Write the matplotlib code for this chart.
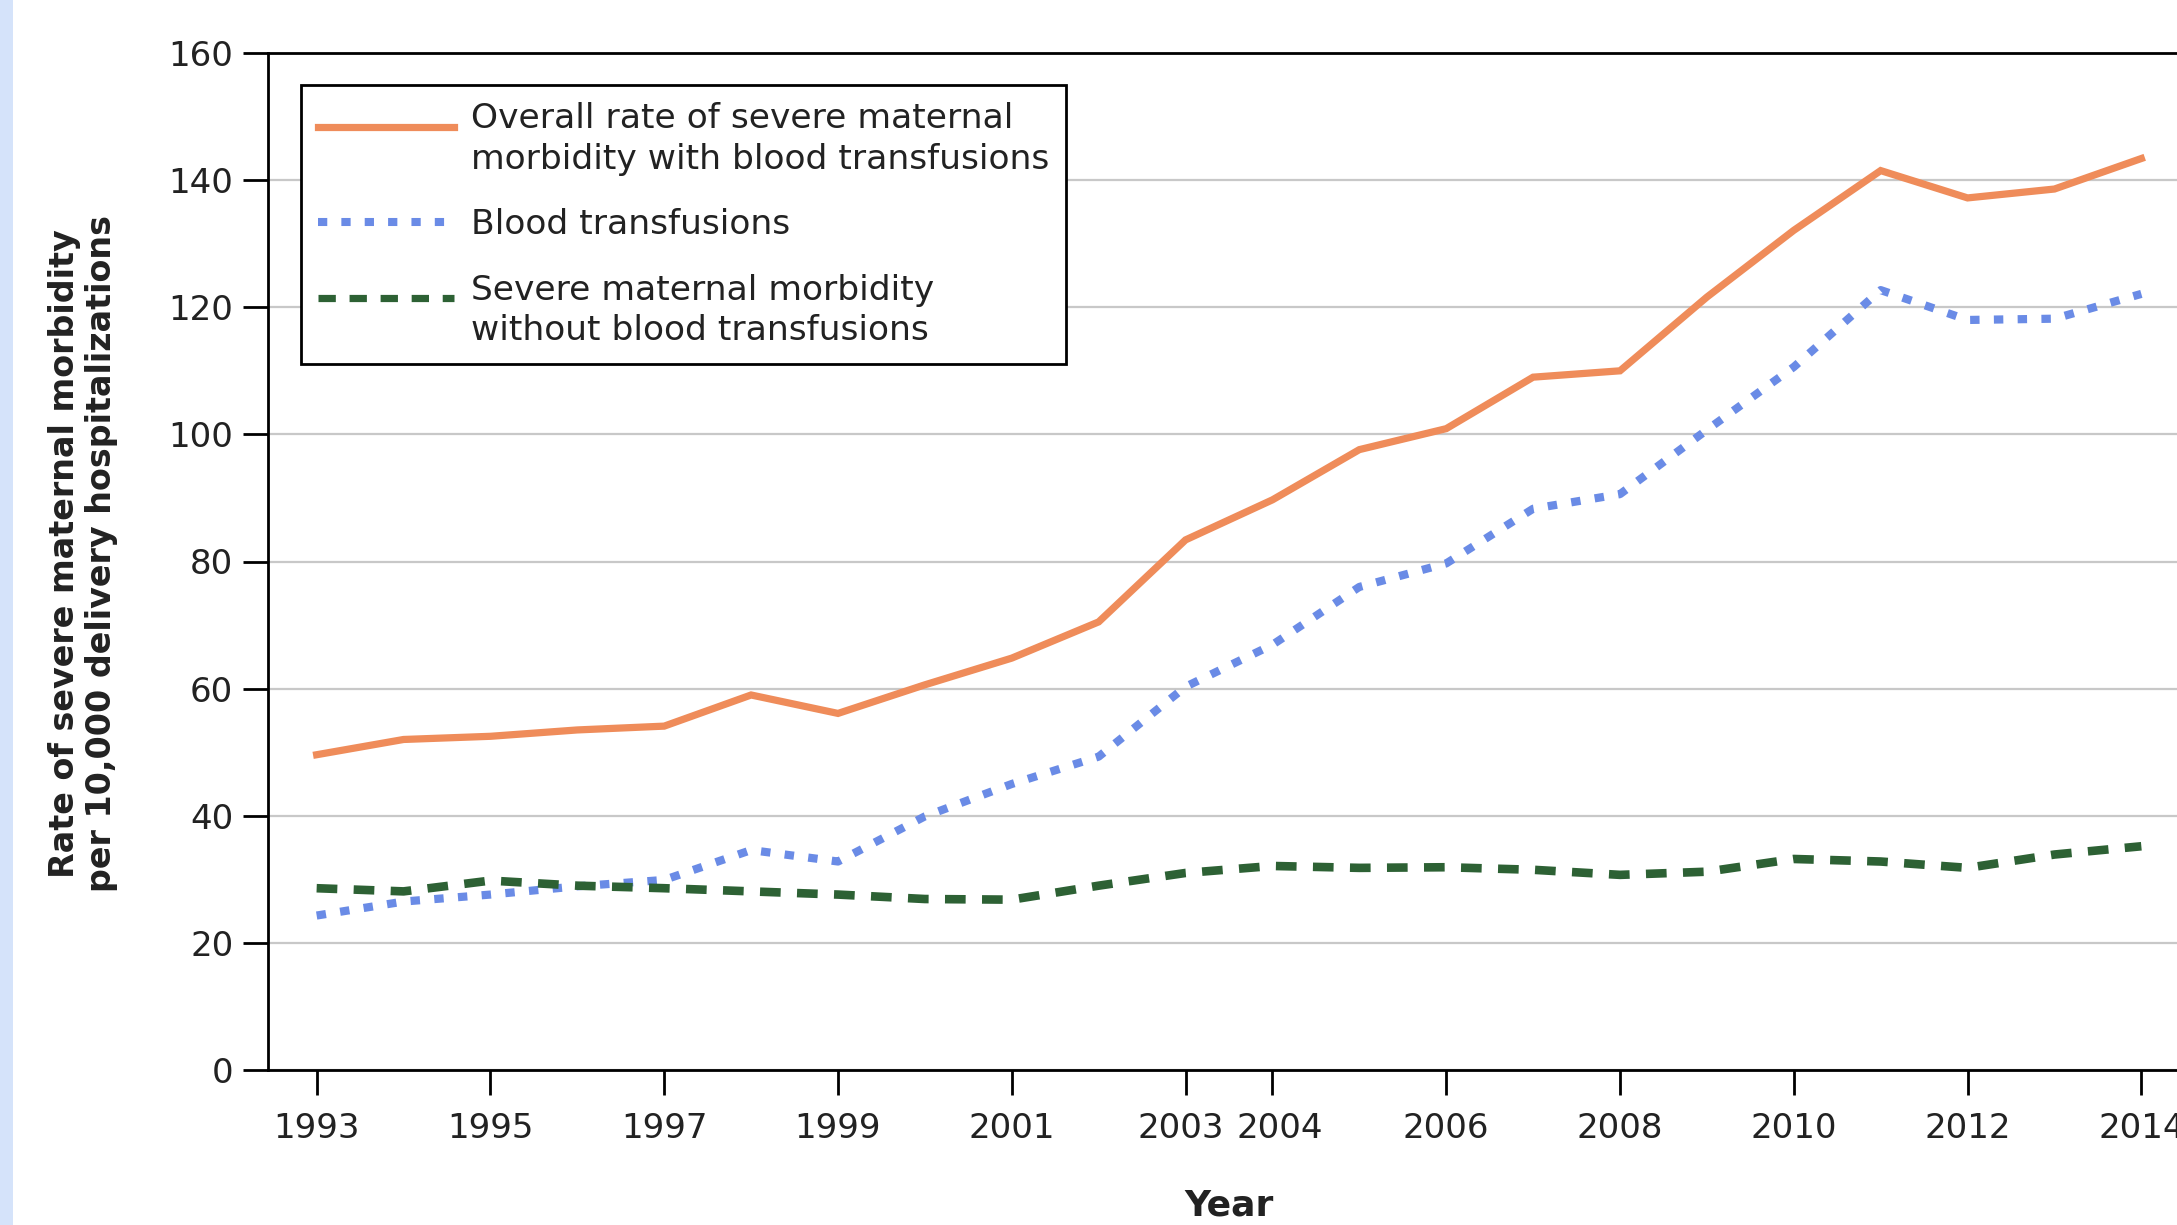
import matplotlib
matplotlib.use("Agg")
import matplotlib.pyplot as plt
from matplotlib.patches import Rectangle
from matplotlib.legend_handler import HandlerLine2D
from matplotlib.transforms import ScaledTranslation

years = list(range(1993, 2015))
overall = [49.6, 52.0, 52.5, 53.5, 54.1, 59.0, 56.1, 60.6, 64.8, 70.5, 83.4,
           89.7, 97.6, 100.9, 109.0, 110.0, 121.6, 132.1, 141.5, 137.2, 138.6, 143.4]
blood = [24.3, 26.5, 27.6, 28.9, 29.9, 34.6, 32.8, 39.9, 45.0, 49.3, 60.3,
         66.9, 76.0, 79.7, 88.3, 90.6, 100.7, 110.6, 122.7, 118.0, 118.2, 122.1]
without = [28.6, 28.1, 29.8, 29.0, 28.6, 28.1, 27.6, 26.9, 26.8, 29.0, 31.0,
           32.1, 31.8, 31.9, 31.5, 30.7, 31.2, 33.2, 32.8, 31.8, 33.9, 35.2]
xticks = [1993, 1995, 1997, 1999, 2001, 2003, 2004, 2006, 2008, 2010, 2012, 2014]
yticks = [0, 20, 40, 60, 80, 100, 120, 140, 160]

labels = ["Overall rate of severe maternal\nmorbidity with blood transfusions",
          "Blood transfusions",
          "Severe maternal morbidity\nwithout blood transfusions"]

plt.rcParams['font.family'] = ['DejaVu Sans']

LEG_FS = 24.8
LEG_LS = 1.29
LINE_STEP = LEG_LS * 1.164 * LEG_FS  # points per text line in legend


class FirstLineHandler(HandlerLine2D):
    """Align the legend handle with the first line of a multi-line label."""
    def __init__(self, shift=0.0, lw=None, **kw):
        super().__init__(**kw)
        self.shift = shift
        self.lw = lw

    def create_artists(self, legend, orig_handle, xdescent, ydescent, width,
                       height, fontsize, trans):
        arts = super().create_artists(legend, orig_handle, xdescent,
                                      ydescent - self.shift, width, height,
                                      fontsize, trans)
        if self.lw is not None:
            for a in arts:
                a.set_linewidth(self.lw)
        return arts


W, H = 2177, 1225
fig = plt.figure(figsize=(W / 100, H / 100), dpi=100)
fig.patch.set_facecolor('white')

# light blue strip on the left edge
fig.patches.append(Rectangle((0, 0), 13 / W, 1, transform=fig.transFigure,
                             facecolor='#D5E3FA', edgecolor='none', zorder=0))

left, right = 268, 2190
top, bottom = 53, 1070
ax = fig.add_axes([left / W, 1 - bottom / H, (right - left) / W, (bottom - top) / H])

l1, = ax.plot(years, overall, color='#EF8C5A', lw=5.2, solid_joinstyle='miter',
              label=labels[0], zorder=3)
l2, = ax.plot(years, blood, color='#6A8BE6', lw=5.9, linestyle=(0, (1.15, 1.75)),
              dash_capstyle='butt', label=labels[1], zorder=3)
l3, = ax.plot(years, without, color='#2D6134', lw=6.2, linestyle=(0, (2.4, 1.9)),
              dash_capstyle='butt', label=labels[2], zorder=3)

ax.set_xlim(1992.44, 2014.56)
ax.set_ylim(0, 160)
ax.set_xticks(xticks)
ax.set_xticklabels([str(x) for x in xticks])
ax.set_yticks(yticks)

ax.grid(axis='y', color='#C8C8C8', lw=1.6, zorder=1)
ax.set_axisbelow(True)

for s in ax.spines.values():
    s.set_color('black')
    s.set_linewidth(2.0)

ax.tick_params(axis='both', which='major', labelsize=24.5, length=18, width=2.0,
               color='black', labelcolor='#222222')
ax.tick_params(axis='y', pad=7)
ax.tick_params(axis='x', pad=12)

# nudge the two crowded labels apart, as in the original
for lab in ax.get_xticklabels():
    if lab.get_text() == '2003':
        lab.set_transform(lab.get_transform() + ScaledTranslation(-5 / 100, 0, fig.dpi_scale_trans))
    elif lab.get_text() == '2004':
        lab.set_transform(lab.get_transform() + ScaledTranslation(7 / 100, 0, fig.dpi_scale_trans))

ax.set_ylabel("Rate of severe maternal morbidity\nper 10,000 delivery hospitalizations",
              fontsize=24, fontweight='bold', color='#222222', linespacing=1.15,
              ha='center', va='center')
ax.yaxis.set_label_coords(-0.0963, 0.508)
ax.set_xlabel("Year", fontsize=26, fontweight='bold', color='#222222',
              ha='center', va='center')
ax.xaxis.set_label_coords(0.5, -0.133)

half = LINE_STEP / 2.0
leg = ax.legend(handles=[l1, l2, l3], loc='upper left',
                bbox_to_anchor=(301 / W, 1 - 85 / H),
                bbox_transform=fig.transFigure, fontsize=LEG_FS, frameon=True,
                fancybox=False, edgecolor='black', framealpha=1,
                handlelength=3.95, handletextpad=0.48, borderpad=0.5,
                labelspacing=0.94, borderaxespad=0,
                handler_map={l1: FirstLineHandler(shift=half, lw=5.2),
                             l2: FirstLineHandler(shift=0.0, lw=5.8),
                             l3: FirstLineHandler(shift=half, lw=5.2)})
leg.get_frame().set_linewidth(2.0)
for t in leg.get_texts():
    t.set_color('#222222')
    t.set_linespacing(LEG_LS)

fig.savefig('out.png', dpi=100, facecolor='white')
